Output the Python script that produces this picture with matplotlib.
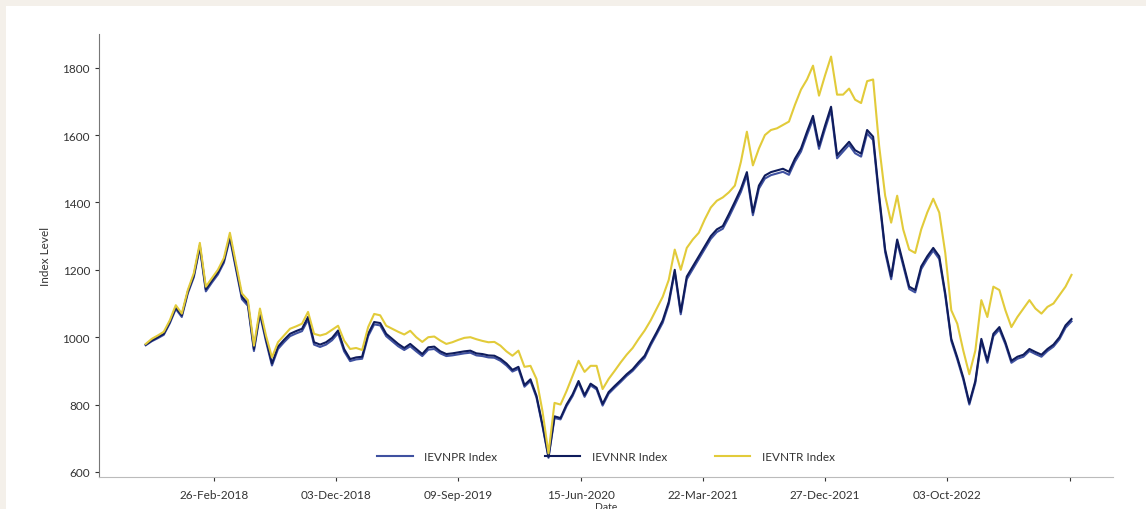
import matplotlib
matplotlib.use("Agg")
import matplotlib.pyplot as plt
from matplotlib.patches import Rectangle
import pandas as pd

plt.rcParams["font.family"] = ["Lato", "DejaVu Sans"]

# sampled roughly every two weeks, Sep 2017 - Jul 2023
start_date = "2017-09-23"
end_date = "2023-07-14"

ievntr = [
    980, 995, 1005, 1016, 1050, 1095, 1070, 1140, 1190, 1280,
    1150, 1175, 1200, 1235, 1310, 1220, 1130, 1110, 975, 1085,
    1005, 940, 985, 1005, 1025, 1032, 1040, 1075, 1010, 1005,
    1010, 1022, 1034, 990, 965, 968, 962, 1030, 1069, 1065,
    1034, 1025, 1016, 1008, 1019, 1000, 986, 1000, 1002, 990,
    980, 985, 992, 998, 1000, 994, 989, 985, 986, 975,
    958, 945, 960, 912, 915, 876, 780, 655, 805, 800,
    840, 885, 930, 897, 915, 915, 846, 876, 900, 925,
    948, 968, 995, 1020, 1050, 1085, 1120, 1170, 1260, 1200,
    1265, 1290, 1310, 1350, 1385, 1405, 1415, 1430, 1450, 1520,
    1610, 1510, 1560, 1600, 1615, 1620, 1630, 1640, 1690, 1735,
    1765, 1806, 1717, 1777, 1833, 1720, 1720, 1738, 1705, 1695,
    1760, 1765, 1568, 1420, 1340, 1420, 1320, 1260, 1250, 1320,
    1370, 1411, 1370, 1250, 1080, 1040, 960, 890, 960, 1110,
    1060, 1150, 1140, 1080, 1030, 1060, 1085, 1110, 1085, 1070,
    1090, 1100, 1125, 1150, 1185,
]

ievnnr = [
    978, 990, 1000, 1010, 1045, 1088, 1065, 1135, 1183, 1272,
    1142, 1168, 1192, 1227, 1300, 1210, 1120, 1100, 965, 1075,
    995, 922, 972, 992, 1010, 1018, 1025, 1060, 985, 978,
    985, 998, 1020, 965, 935, 940, 942, 1010, 1045, 1042,
    1010, 995, 980, 968, 980, 965, 950, 970, 972, 958,
    950, 952, 955, 958, 960, 952, 950, 946, 945, 936,
    922, 903, 912, 858, 875, 826, 740, 645, 765, 760,
    800, 830, 870, 828, 862, 850, 802, 837, 855, 872,
    890, 905, 926, 945, 982, 1015, 1050, 1105, 1200, 1075,
    1180, 1210, 1240, 1270, 1300, 1320, 1330, 1365, 1402, 1440,
    1490, 1370, 1450, 1480, 1490, 1495, 1500, 1491, 1530, 1560,
    1610, 1657, 1568, 1628, 1684, 1540, 1560, 1580, 1555, 1545,
    1615, 1595, 1420, 1260, 1180, 1290, 1220, 1150, 1140, 1210,
    1240, 1265, 1240, 1130, 995, 940, 880, 805, 870, 995,
    930, 1010, 1030, 985, 930, 942, 948, 965, 956, 948,
    965, 978, 1000, 1035, 1054,
]

ievnpr = [
    976, 988, 997, 1007, 1041, 1084, 1060, 1130, 1178, 1266,
    1136, 1162, 1186, 1221, 1293, 1203, 1113, 1093, 959, 1068,
    988, 916, 965, 985, 1003, 1011, 1018, 1052, 978, 971,
    978, 991, 1012, 958, 929, 934, 936, 1003, 1038, 1035,
    1003, 988, 973, 962, 973, 958, 944, 963, 965, 952,
    944, 946, 949, 952, 954, 946, 944, 940, 939, 930,
    916, 898, 906, 853, 870, 821, 736, 642, 760, 756,
    795, 825, 865, 823, 857, 845, 797, 832, 850, 867,
    885, 900, 920, 939, 976, 1009, 1043, 1098, 1193, 1068,
    1172, 1202, 1232, 1262, 1292, 1312, 1322, 1356, 1393, 1431,
    1481, 1362, 1441, 1471, 1481, 1486, 1491, 1482, 1521, 1551,
    1600, 1647, 1559, 1618, 1674, 1531, 1551, 1571, 1546, 1536,
    1605, 1585, 1411, 1252, 1172, 1282, 1212, 1143, 1133, 1202,
    1232, 1257, 1232, 1123, 989, 934, 874, 800, 864, 988,
    924, 1003, 1023, 979, 924, 936, 942, 959, 950, 942,
    959, 972, 994, 1028, 1047,
]

tick_dates = ["2018-02-26", "2018-12-03", "2019-09-09", "2020-06-15",
              "2021-03-22", "2021-12-27", "2022-10-03", "2023-07-10"]
tick_labels = ["26-Feb-2018", "03-Dec-2018", "09-Sep-2019", "15-Jun-2020",
               "22-Mar-2021", "27-Dec-2021", "03-Oct-2022", ""]

dates = pd.date_range(start_date, end_date, periods=len(ievntr))

fig = plt.figure(figsize=(11.46, 5.10), dpi=100, facecolor="#f4f0ea")
panel = Rectangle((6 / 1146, 0), 1, 1 - 7 / 510, transform=fig.transFigure,
                  facecolor="white", edgecolor="none", zorder=-10)
fig.add_artist(panel)
ax = fig.add_axes([99 / 1146, 32 / 510, (1113 - 99) / 1146, (478 - 35) / 510])
ax.set_facecolor("none")

ax.plot(dates, ievnpr, color="#3f51a0", lw=1.5, label="IEVNPR Index")
ax.plot(dates, ievnnr, color="#0f1c5c", lw=1.5, label="IEVNNR Index")
ax.plot(dates, ievntr, color="#e2cb3a", lw=1.5, label="IEVNTR Index")

ax.set_xlim(pd.Timestamp("2017-06-08"), pd.Timestamp("2023-10-17"))
ax.set_ylim(585, 1900)
ax.set_yticks([600, 800, 1000, 1200, 1400, 1600, 1800])
ax.set_xticks(pd.to_datetime(tick_dates))
ax.set_xticklabels(tick_labels)

for side in ["top", "right"]:
    ax.spines[side].set_visible(False)
ax.spines["left"].set_color("#777777")
ax.spines["bottom"].set_color("#bbbbbb")
ax.tick_params(axis="both", labelsize=8.5, colors="#333333", length=3, width=0.8)
ax.tick_params(axis="x", pad=6)

ax.set_ylabel("Index Level", fontsize=8.5, color="#333333", labelpad=8)
ax.set_xlabel("Date", fontsize=7.5, color="#333333", labelpad=1)

ax.legend(loc="center", bbox_to_anchor=(0.5, 0.047), ncol=3, frameon=False,
          fontsize=8.5, handlelength=3, handletextpad=1.0, columnspacing=4.0,
          labelcolor="#333333")

fig.savefig("out.png", dpi=100, facecolor=fig.get_facecolor())
